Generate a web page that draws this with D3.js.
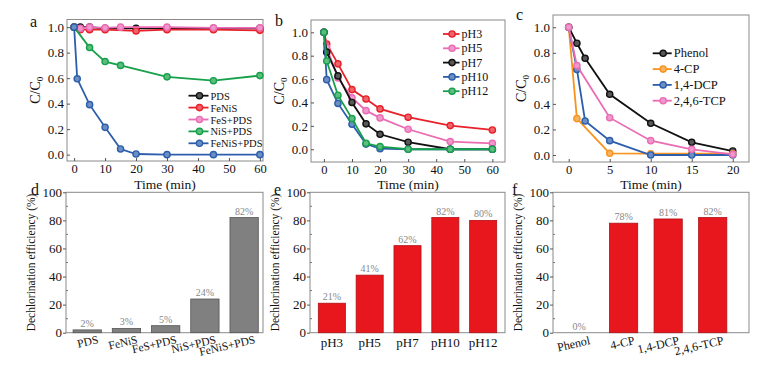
<!DOCTYPE html>
<html><head><meta charset="utf-8">
<script src="https://cdn.jsdelivr.net/npm/d3@7"></script>
<style>
body{margin:0;background:#fff}
svg{display:block}
svg text{font-family:"Liberation Serif","DejaVu Serif","Noto Serif",serif !important;fill:#111}
</style>
</head><body>
<svg id="chart" width="771" height="365"></svg>
<script>
// ---------- Panel a data ----------
const aNames = ["PDS","FeNiS","FeS+PDS","NiS+PDS","FeNiS+PDS"];
const aColors = ["#111111","#e8202a","#ea6cb4","#17a04a","#2d5eab"];
const aT_PDS = [0,2,5,10,20,30,45,60];
const aV_PDS = [1.0,1.0,1.0,0.99,0.99,0.99,0.99,0.99];
const aT_FeNiS = [0,2,5,10,20,30,45,60];
const aV_FeNiS = [1.0,0.98,0.98,0.98,0.97,0.98,0.98,0.975];
const aT_FeS = [0,2,5,10,15,30,45,60];
const aV_FeS = [1.0,0.99,1.0,0.995,1.0,1.0,0.995,0.995];
const aT_NiS = [0,5,10,15,30,45,60];
const aV_NiS = [1.0,0.84,0.73,0.70,0.61,0.58,0.62];
const aT_FeNiSPDS = [0,1,5,10,15,20,30,45,60];
const aV_FeNiSPDS = [1.0,0.595,0.392,0.214,0.044,0.005,0.0,0.0,0.0];
const aXTicks = [0,10,20,30,40,50,60];
const yTicksLine = [0.0,0.2,0.4,0.6,0.8,1.0];

// ---------- Panel b data ----------
const bNames = ["pH3","pH5","pH7","pH10","pH12"];
const bColors = ["#e8202a","#ea6cb4","#111111","#2d5eab","#17a04a"];
const bTime = [0,1,5,10,15,20,30,45,60];
const bV_pH3 = [1.0,0.90,0.73,0.51,0.43,0.345,0.274,0.202,0.165];
const bV_pH5 = [1.0,0.87,0.61,0.44,0.33,0.268,0.171,0.066,0.051];
const bV_pH7 = [1.0,0.83,0.627,0.40,0.217,0.128,0.06,0.0,0.0];
const bV_pH10 = [1.0,0.595,0.392,0.214,0.044,0.005,0.0,0.0,0.0];
const bV_pH12 = [1.0,0.755,0.462,0.262,0.051,0.023,0.0,0.0,0.0];
const bXTicks = [0,10,20,30,40,50,60];

// ---------- Panel c data ----------
const cNames = ["Phenol","4-CP","1,4-DCP","2,4,6-TCP"];
const cColors = ["#111111","#f7941d","#2d5eab","#ea6cb4"];
const cT_Phenol = [0,1,2,5,10,15,20];
const cV_Phenol = [1.0,0.875,0.757,0.475,0.248,0.099,0.031];
const cT_4CP = [0,1,5,10,15,20];
const cV_4CP = [1.0,0.285,0.013,0.01,0.01,0.01];
const cT_DCP = [0,1,2,5,10,15,20];
const cV_DCP = [1.0,0.67,0.266,0.112,0.0,0.0,0.0];
const cT_TCP = [0,1,5,10,15,20];
const cV_TCP = [1.0,0.70,0.292,0.112,0.044,0.005];
const cXTicks = [0,5,10,15,20];

// ---------- Bar panels ----------
const dCats = ["PDS","FeNiS","FeS+PDS","NiS+PDS","FeNiS+PDS"];
const dVals = [2,3,5,24,82];
const eCats = ["pH3","pH5","pH7","pH10","pH12"];
const eVals = [21,41,62,82,80];
const fCats = ["Phenol","4-CP","1,4-DCP","2,4,6-TCP"];
const fVals = [0,78,81,82];
const barYTicks = [0,20,40,60,80,100];

const svg = d3.select("#chart");
const FRAME = "#8a8a8a";
const SERIF = "Liberation Serif, DejaVu Serif, Noto Serif, serif";

function frame(x0,x1,y0,y1){
  svg.append("rect").attr("x",x0).attr("y",y0).attr("width",x1-x0).attr("height",y1-y0)
    .attr("fill","none").attr("stroke",FRAME).attr("stroke-width",1);
}
function styleAxis(g,size){
  g.attr("font-family",SERIF);
  g.select(".domain").remove();
  g.selectAll(".tick line").attr("stroke","#555");
  g.selectAll(".tick text").attr("font-size",size).attr("fill","#111");
}
function ccoLabel(x,y){
  const t = svg.append("text").attr("transform",`translate(${x},${y}) rotate(-90)`)
    .attr("text-anchor","middle").attr("font-size",14);
  t.append("tspan").text("C/C");
  t.append("tspan").text("0").attr("font-size",9).attr("dy",3);
}
function letter(ch,x,y){
  svg.append("text").attr("x",x).attr("y",y).attr("font-size",16).text(ch);
}
function marker(g,cx,cy,color){
  g.append("circle").attr("cx",cx).attr("cy",cy).attr("r",3.1)
    .attr("fill",d3.interpolateRgb(color,"#fff")(0.3)).attr("stroke",color).attr("stroke-width",1.4);
}

function linePanel(p){
  const x = d3.scaleLinear().domain(p.xDom).range([p.x0,p.x1]);
  const y = d3.scaleLinear().domain(p.yDom).range([p.y1,p.y0]);
  frame(p.x0,p.x1,p.y0,p.y1);
  const gx = svg.append("g").attr("transform",`translate(0,${p.y1})`)
    .call(d3.axisBottom(x).tickValues(p.xTicks).tickSizeInner(-3).tickSizeOuter(0).tickPadding(3).tickFormat(d3.format("d")));
  styleAxis(gx,12.5);
  const gy = svg.append("g").attr("transform",`translate(${p.x0},0)`)
    .call(d3.axisLeft(y).tickValues(yTicksLine).tickSizeInner(-3).tickSizeOuter(0).tickPadding(3).tickFormat(d3.format(".1f")));
  styleAxis(gy,13);
  const line = d3.line().x(d=>x(d[0])).y(d=>y(d[1]));
  p.series.forEach(s=>{
    const pts = s.t.map((t,i)=>[t,s.v[i]]);
    const g = svg.append("g");
    g.append("path").attr("d",line(pts)).attr("fill","none").attr("stroke",s.color).attr("stroke-width",1.8);
    pts.forEach(d=>marker(g,x(d[0]),y(d[1]),s.color));
  });
  // legend
  p.series.forEach((s,i)=>{
    const ly = p.legY + i*p.legDy;
    svg.append("line").attr("x1",p.legX).attr("x2",p.legX+p.legW).attr("y1",ly).attr("y2",ly)
      .attr("stroke",s.color).attr("stroke-width",1.8);
    marker(svg,p.legX+p.legW*0.55,ly,s.color);
    svg.append("text").attr("x",p.legX+p.legW+2).attr("y",ly+4).attr("font-size",p.legFont)
      .attr("fill","#333").text(s.name);
  });
  svg.append("text").attr("x",(p.x0+p.x1)/2).attr("y",189).attr("text-anchor","middle")
    .attr("font-size",13.5).text("Time (min)");
  ccoLabel(p.x0-27,(p.y0+p.y1)/2);
}

linePanel({x0:67,x1:263,y0:19.5,y1:161,xDom:[-2.3,61],yDom:[-0.05,1.06],xTicks:aXTicks,
  series:[
    {name:aNames[0],color:aColors[0],t:aT_PDS,v:aV_PDS},
    {name:aNames[1],color:aColors[1],t:aT_FeNiS,v:aV_FeNiS},
    {name:aNames[2],color:aColors[2],t:aT_FeS,v:aV_FeS},
    {name:aNames[3],color:aColors[3],t:aT_NiS,v:aV_NiS},
    {name:aNames[4],color:aColors[4],t:aT_FeNiSPDS,v:aV_FeNiSPDS}],
  legX:188.5,legW:20,legY:95.7,legDy:11.9,legFont:10.5});

linePanel({x0:311,x1:505,y0:20,y1:162,xDom:[-4.6,64.5],yDom:[-0.109,1.105],xTicks:bXTicks,
  series:[
    {name:bNames[0],color:bColors[0],t:bTime,v:bV_pH3},
    {name:bNames[1],color:bColors[1],t:bTime,v:bV_pH5},
    {name:bNames[2],color:bColors[2],t:bTime,v:bV_pH7},
    {name:bNames[3],color:bColors[3],t:bTime,v:bV_pH10},
    {name:bNames[4],color:bColors[4],t:bTime,v:bV_pH12}],
  legX:443,legW:16.5,legY:34,legDy:14.3,legFont:12});

linePanel({x0:553,x1:749,y0:15,y1:162,xDom:[-1.915,21.98],yDom:[-0.055,1.096],xTicks:cXTicks,
  series:[
    {name:cNames[0],color:cColors[0],t:cT_Phenol,v:cV_Phenol},
    {name:cNames[1],color:cColors[1],t:cT_4CP,v:cV_4CP},
    {name:cNames[2],color:cColors[2],t:cT_DCP,v:cV_DCP},
    {name:cNames[3],color:cColors[3],t:cT_TCP,v:cV_TCP}],
  legX:652.7,legW:19,legY:53.3,legDy:15.8,legFont:12.5});

letter("a",30,27); letter("b",275,26); letter("c",516,20);

function barPanel(p){
  const x = d3.scaleBand().domain(p.cats).range([p.x0,p.x1]).paddingInner(p.pi).paddingOuter(p.po).align(p.align);
  const y = d3.scaleLinear().domain([0,100]).range([p.y1,p.y0]);
  frame(p.x0,p.x1,p.y0,p.y1);
  const gy = svg.append("g").attr("transform",`translate(${p.x0},0)`)
    .call(d3.axisLeft(y).tickValues(barYTicks).tickSizeInner(3).tickSizeOuter(0).tickPadding(1));
  styleAxis(gy,13);
  // minor ticks
  svg.append("g").selectAll("line").data([10,30,50,70,90]).join("line")
    .attr("x1",p.x0).attr("x2",p.x0+2).attr("y1",d=>y(d)).attr("y2",d=>y(d)).attr("stroke","#777");
  svg.append("g").selectAll("rect").data(p.vals).join("rect")
    .attr("x",(d,i)=>x(p.cats[i])).attr("width",x.bandwidth())
    .attr("y",d=>y(d)).attr("height",d=>y(0)-y(d))
    .attr("fill",p.fill).attr("stroke",p.stroke).attr("stroke-width",0.8);
  svg.append("g").selectAll("text").data(p.vals).join("text")
    .attr("x",(d,i)=>x(p.cats[i])+x.bandwidth()/2).attr("y",d=>y(d)-3)
    .attr("text-anchor","middle").attr("font-size",10).style("fill","#888")
    .text(d=>d+"%");
  const lab = svg.append("g").selectAll("text").data(p.cats).join("text")
    .attr("font-size",p.labFont).text(d=>d);
  if(p.rot){
    lab.attr("text-anchor","end")
      .attr("transform",d=>`translate(${x(d)+x.bandwidth()-2.5},${p.labY}) rotate(-13)`);
  } else {
    lab.attr("text-anchor","middle")
      .attr("transform",d=>`translate(${x(d)+x.bandwidth()/2},${p.labY})`);
  }
  svg.append("text").attr("transform",`translate(${p.x0-31},${(p.y0+p.y1)/2}) rotate(-90)`)
    .attr("text-anchor","middle").attr("font-size",11.5).text("Dechlorination efficiency (%)");
}

barPanel({x0:66,x1:263,y0:192.3,y1:332.7,cats:dCats,vals:dVals,pi:0.278,po:0.15,align:0.6,
  fill:"#808080",stroke:"#555",labFont:11.5,labY:343,rot:true});
barPanel({x0:310,x1:505,y0:192.3,y1:332.7,cats:eCats,vals:eVals,pi:0.285,po:0.22,align:0.5,
  fill:"#e8161d",stroke:"#b01015",labFont:13,labY:347,rot:false});
barPanel({x0:553,x1:749,y0:192.3,y1:332.7,cats:fCats,vals:fVals,pi:0.367,po:0.383,align:0.35,
  fill:"#e8161d",stroke:"#b01015",labFont:12,labY:344,rot:true});

letter("d",31,195); letter("e",274,195); letter("f",512,195);
</script>
</body></html>
